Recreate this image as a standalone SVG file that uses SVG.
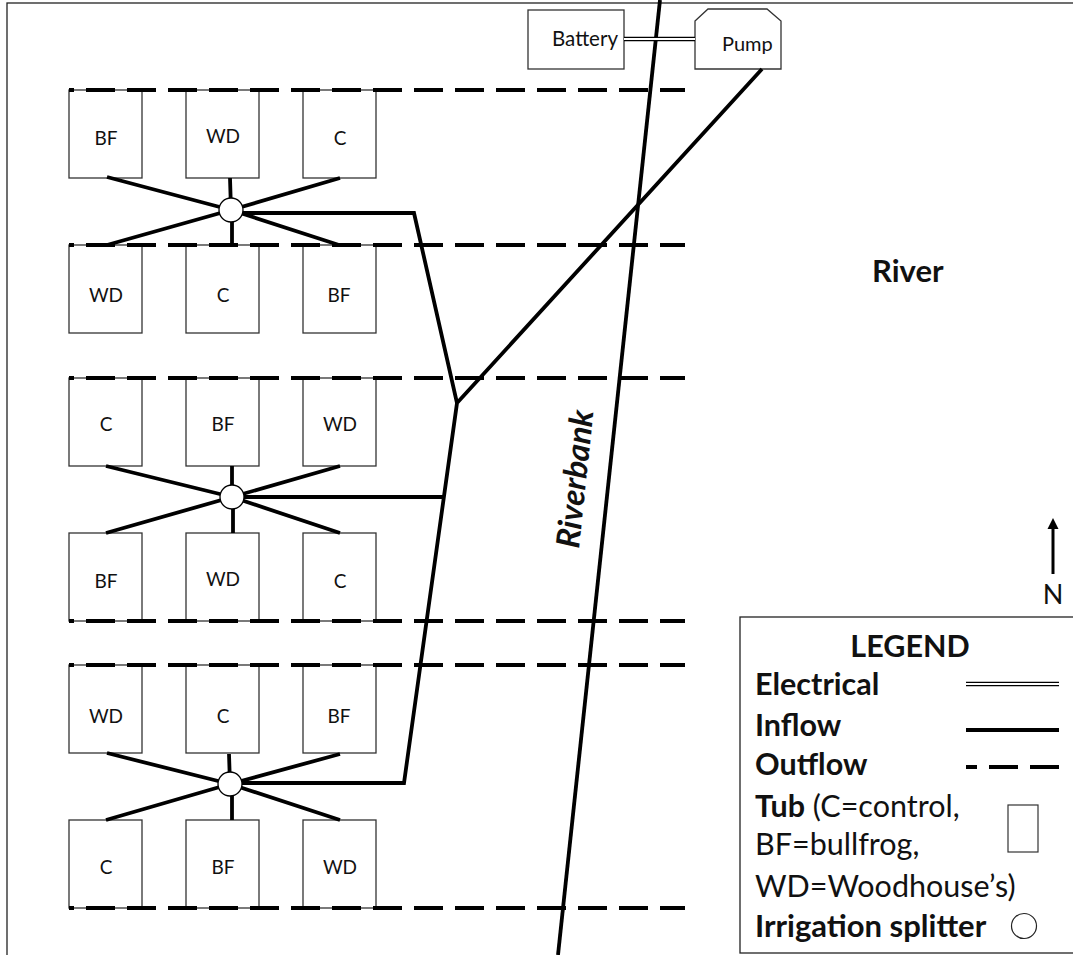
<svg xmlns="http://www.w3.org/2000/svg" width="1073" height="955" viewBox="0 0 1073 955">
<style>
text{font-family:"Lato","Open Sans","Liberation Sans",sans-serif;fill:#111}
.tub{fill:#fff;stroke:#333;stroke-width:1.3}
.t{font-size:19px;text-anchor:middle}
.in{fill:none;stroke:#000;stroke-width:3.8;stroke-linejoin:miter}
.out{fill:none;stroke:#000;stroke-width:3.8;stroke-dasharray:29 12;stroke-dashoffset:24}
.sp{fill:#fff;stroke:#000;stroke-width:1.3}
.l{font-size:30.5px}
.b{font-weight:700}
</style>
<rect id="frame" x="7" y="3" width="1080" height="960" fill="#fff" stroke="#222" stroke-width="1.300"/>
<g id="tubs">
<g id="tub-r1-1"><rect class="tub" x="69" y="90" width="73" height="88"/><text class="t" x="106" y="145">BF</text></g>
<g id="tub-r1-2"><rect class="tub" x="186" y="90" width="73" height="88"/><text class="t" x="223" y="143">WD</text></g>
<g id="tub-r1-3"><rect class="tub" x="303" y="90" width="73" height="88"/><text class="t" x="340" y="145">C</text></g>
<g id="tub-r2-1"><rect class="tub" x="69" y="245" width="73" height="88"/><text class="t" x="106" y="302">WD</text></g>
<g id="tub-r2-2"><rect class="tub" x="186" y="245" width="73" height="88"/><text class="t" x="223" y="302">C</text></g>
<g id="tub-r2-3"><rect class="tub" x="303" y="245" width="73" height="88"/><text class="t" x="339" y="302">BF</text></g>
<g id="tub-r3-1"><rect class="tub" x="69" y="378" width="73" height="88"/><text class="t" x="106" y="431">C</text></g>
<g id="tub-r3-2"><rect class="tub" x="186" y="378" width="73" height="88"/><text class="t" x="223" y="431">BF</text></g>
<g id="tub-r3-3"><rect class="tub" x="303" y="378" width="73" height="88"/><text class="t" x="340" y="431">WD</text></g>
<g id="tub-r4-1"><rect class="tub" x="69" y="533" width="73" height="88"/><text class="t" x="106" y="588">BF</text></g>
<g id="tub-r4-2"><rect class="tub" x="186" y="533" width="73" height="88"/><text class="t" x="223" y="586">WD</text></g>
<g id="tub-r4-3"><rect class="tub" x="303" y="533" width="73" height="88"/><text class="t" x="340" y="588">C</text></g>
<g id="tub-r5-1"><rect class="tub" x="69" y="665" width="73" height="88"/><text class="t" x="106" y="723">WD</text></g>
<g id="tub-r5-2"><rect class="tub" x="186" y="665" width="73" height="88"/><text class="t" x="223" y="723">C</text></g>
<g id="tub-r5-3"><rect class="tub" x="303" y="665" width="73" height="88"/><text class="t" x="339" y="723">BF</text></g>
<g id="tub-r6-1"><rect class="tub" x="69" y="820" width="73" height="88"/><text class="t" x="106" y="874">C</text></g>
<g id="tub-r6-2"><rect class="tub" x="186" y="820" width="73" height="88"/><text class="t" x="223" y="874">BF</text></g>
<g id="tub-r6-3"><rect class="tub" x="303" y="820" width="73" height="88"/><text class="t" x="340" y="874">WD</text></g>
</g>
<g id="battery"><rect x="528" y="10" width="96" height="59" fill="#fff" stroke="#333" stroke-width="1.300"/><text x="552" y="46" font-size="20.500">Battery</text></g>
<g id="pump"><path d="M695 21L708 9H767L781 21V69H695Z" fill="#fff" stroke="#333" stroke-width="1.300"/><text x="722" y="51" font-size="20">Pump</text></g>
<g id="connectors">
<path class="in" d="M660 0L558 955"/>
<path class="out" d="M69 90H685M69 245H685M69 378H685M69 621H685M69 665H685M69 908H685"/>
<path d="M624 39H695" stroke="#000" stroke-width="4.500" fill="none"/>
<path d="M624 39H695" stroke="#fff" stroke-width="1.800" fill="none"/>
<path class="in" d="M762 69L457 403M232 213H414L457 403L404 783H230M232 497H443"/>
<path class="in" d="M107 177L231 210M230 178L231 210M340 178L231 210M107 245L231 210M232 245V210M339 245L231 210"/>
<path class="in" d="M106 466L232 497M232 466V497M340 466L232 497M106 533L232 497M233 533V497M340 533L232 497"/>
<path class="in" d="M107 753L230 784M229 754L230 784M340 754L230 784M106 820L230 784M232 820V784M340 820L230 784"/>
</g>
<g id="splitter-1"><circle class="sp" cx="231" cy="210" r="12"/></g>
<g id="splitter-2"><circle class="sp" cx="232" cy="497" r="12"/></g>
<g id="splitter-3"><circle class="sp" cx="230" cy="784" r="12"/></g>
<g id="labels">
<text x="872" y="282" font-size="31" class="b">River</text>
<text transform="translate(579 549) rotate(-84)" font-size="32.500" font-weight="700" font-style="italic">Riverbank</text>
</g>
<g id="north">
<path d="M1053 574V528" stroke="#000" stroke-width="3" fill="none"/>
<path d="M1053 518L1058.500 529H1047.500Z" fill="#000"/>
<text x="1053" y="604" font-size="27" text-anchor="middle">N</text>
</g>
<g id="legend">
<rect x="740" y="617" width="345" height="336" fill="#fff" stroke="#222" stroke-width="1.300"/>
<text x="910" y="657" class="l b" text-anchor="middle">LEGEND</text>
<text x="755" y="695" class="l b">Electrical</text>
<text x="755" y="736" class="l b">Inflow</text>
<text x="755" y="775" class="l b">Outflow</text>
<text x="755" y="817" class="l"><tspan class="b">Tub</tspan> (C=control,</text>
<text x="755" y="855" class="l">BF=bullfrog,</text>
<text x="755" y="897" class="l">WD=Woodhouse’s)</text>
<text x="755" y="937" class="l b" font-size="31" style="font-size:31px">Irrigation splitter</text>
<path d="M966 684H1059" stroke="#000" stroke-width="4.500" fill="none"/>
<path d="M966 684H1059" stroke="#fff" stroke-width="1.800" fill="none"/>
<path d="M966 730H1059" stroke="#000" stroke-width="3.800" fill="none"/>
<path d="M966 767H1059" stroke="#000" stroke-width="3.800" fill="none" stroke-dasharray="29 12" stroke-dashoffset="18"/>
<rect x="1008" y="805" width="30" height="47" fill="#fff" stroke="#333" stroke-width="1.200"/>
<circle cx="1024" cy="926" r="12.500" fill="#fff" stroke="#222" stroke-width="1.200"/>
</g>
</svg>
